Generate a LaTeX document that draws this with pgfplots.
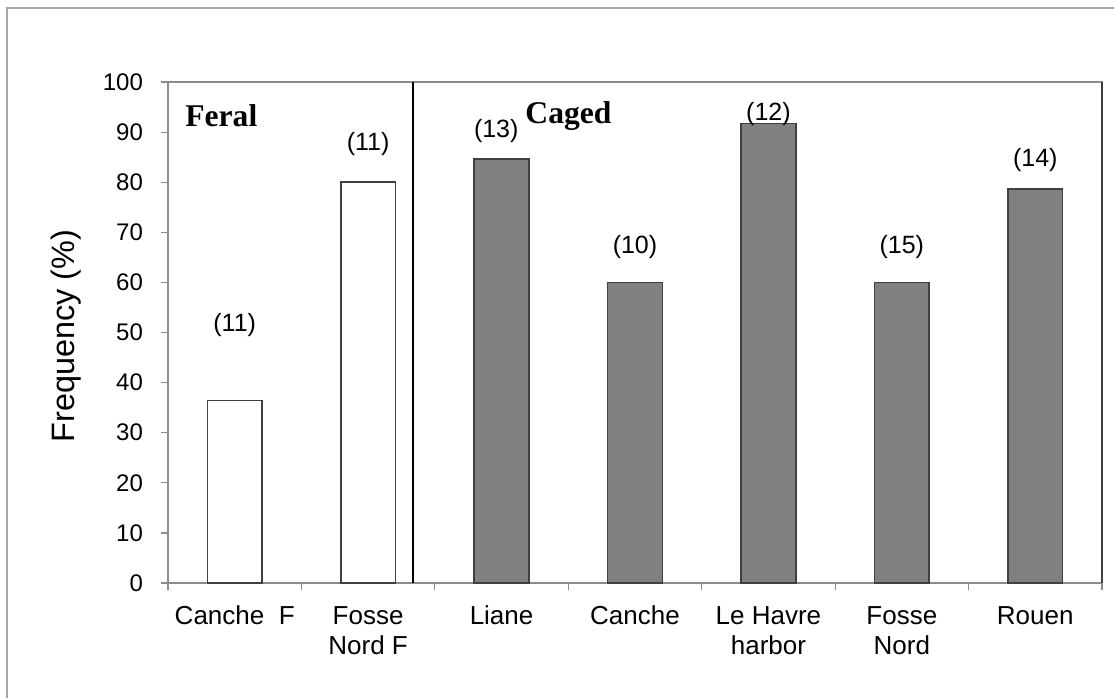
\documentclass[border=0pt]{standalone}
\usepackage{pgfplots}
\pgfplotsset{compat=1.18}
\usepackage{fontspec}
\setmainfont{Liberation Sans}
\newfontfamily\timesfont{Liberation Serif}
\definecolor{barfill}{HTML}{808080}
\definecolor{baredge}{HTML}{404040}
\definecolor{axgray}{HTML}{8C8C8C}
\definecolor{framegray}{HTML}{A6A6A6}
\begin{document}
\begin{tikzpicture}
\path[use as bounding box] (-84pt,-57.5pt) rectangle (473pt,291.5pt);
\draw[framegray, line width=0.8pt] (473pt,287.5pt) -- (-80.5pt,287.5pt) -- (-80.5pt,-57.5pt);
\begin{axis}[
  at={(0,0)}, anchor=south west,
  scale only axis, width=467pt, height=250.5pt,
  xmin=-0.5, xmax=6.5, ymin=0, ymax=100,
  ytick={0,10,...,100},
  xtick={0,...,6},
  xticklabels={{\strut Canche\ \ F},{\strut Fosse\\Nord F},{\strut Liane},{\strut Canche},{\strut Le Havre\\harbor},{\strut Fosse\\Nord},{\strut Rouen}},
  xticklabel style={align=center, anchor=north, font=\fontsize{13}{15}\selectfont, yshift=-3pt},
  yticklabel style={font=\fontsize{12}{14}\selectfont, xshift=-5.5pt},
  /pgf/number format/assume math mode=true,
  minor xtick={-0.5,0.5,...,6.5},
  xtick style={/pgfplots/major tick length=0pt},
  minor tick length=3.5pt,
  major tick length=3.5pt,
  tick align=outside,
  xtick pos=bottom, ytick pos=left,
  tick style={axgray, line width=0.6pt},
  axis line style={axgray, line width=0.8pt},
  ybar, bar width=0.41, bar shift=0pt,
  clip=false,
]
\addplot[fill=white, draw=baredge, line width=0.8pt] coordinates {(0,36.4) (1,80)};
\addplot[fill=barfill, draw=baredge, line width=0.8pt] coordinates {(2,84.6) (3,60) (4,91.7) (5,60) (6,78.6)};
\draw[baredge, line width=1pt] (rel axis cs:1,0) -- (rel axis cs:1,1);
\draw[black, line width=0.75pt] (axis cs:1.337,0) -- (axis cs:1.337,100);
\begin{scope}[every node/.style={font=\fontsize{12.5}{14}\selectfont}]
\node at (axis cs:0,51.4) {(11)};
\node at (axis cs:1,87.7) {(11)};
\node at (axis cs:1.96,90.3) {(13)};
\node at (axis cs:3,67) {(10)};
\node at (axis cs:4,93.6) {(12)};
\node at (axis cs:5,67) {(15)};
\node at (axis cs:6,84.5) {(14)};
\end{scope}
\node[anchor=west, inner sep=0pt, font=\timesfont\bfseries\fontsize{15.8}{17}\selectfont] at (axis cs:-0.373,93.3) {Feral};
\node[anchor=west, inner sep=0pt, font=\timesfont\bfseries\fontsize{15.8}{17}\selectfont] at (axis cs:2.176,93.3) {Caged};
\end{axis}
\node[rotate=90, font=\fontsize{16.2}{18}\selectfont] at (-51pt,123.5pt) {Frequency (\%)};
\end{tikzpicture}
\end{document}
